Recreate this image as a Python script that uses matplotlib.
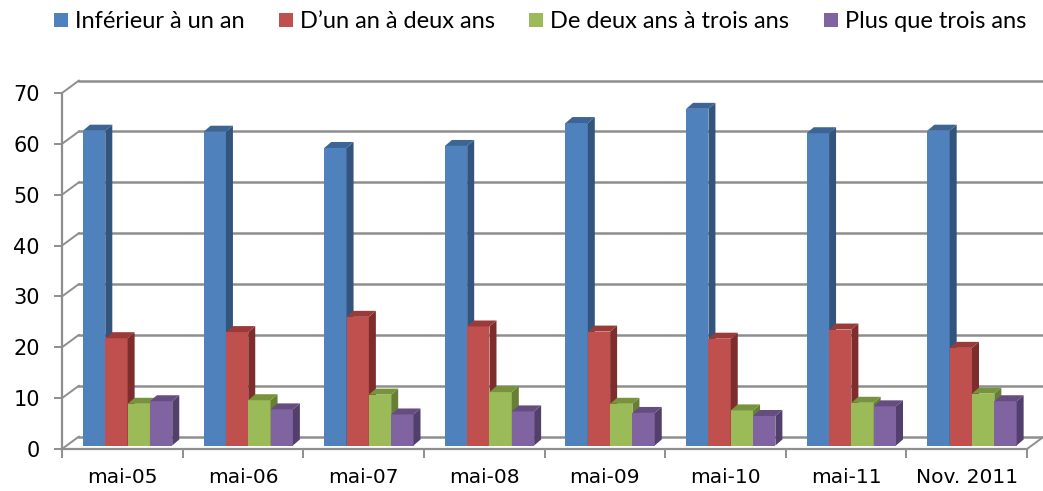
import numpy as np
import matplotlib
matplotlib.use("Agg")
import matplotlib.pyplot as plt
import matplotlib.transforms as mtransforms
from matplotlib.patches import Polygon, Patch

# data
categories = ["mai-05", "mai-06", "mai-07", "mai-08", "mai-09", "mai-10", "mai-11", "Nov. 2011"]
series = ["Inférieur à un an", "D’un an à deux ans", "De deux ans à trois ans", "Plus que trois ans"]
inf_un_an = [61.9, 61.7, 58.5, 58.9, 63.4, 66.2, 61.4, 61.9]
un_a_deux = [21.1, 22.3, 25.3, 23.4, 22.4, 21.0, 22.8, 19.2]
deux_a_trois = [8.2, 8.9, 10.0, 10.5, 8.2, 6.9, 8.4, 10.2]
plus_trois = [8.7, 7.1, 6.1, 6.7, 6.4, 5.8, 7.7, 8.7]
yticks = [0, 10, 20, 30, 40, 50, 60, 70]

values = [inf_un_an, un_a_deux, deux_a_trois, plus_trois]
front_cols = ["#4F81BD", "#C0504D", "#9BBB59", "#8064A2"]
top_cols = ["#3C6494", "#9A3B38", "#77933C", "#654D80"]
side_cols = ["#33547D", "#7D2E2C", "#667F34", "#533F6B"]
grey = "#8E8E8E"

fig = plt.figure(figsize=(10.43, 4.91), dpi=100)
ax = fig.add_axes([62 / 1043, 42 / 491, 965 / 1043, 356 / 491])
ax.set_xlim(-0.5, len(categories) - 0.5)
ax.set_ylim(0, 70)

# back wall gridlines (shifted up/right for the 3D look)
back = mtransforms.ScaledTranslation(17 / 100, 12.5 / 100, fig.dpi_scale_trans)
for v in yticks:
    ax.plot([0, 1], [v, v], color=grey, lw=1.8, transform=ax.get_yaxis_transform() + back,
            clip_on=False, zorder=1)
    ax.annotate("", xy=(0, v), xycoords=ax.get_yaxis_transform(), xytext=(12.24, 9),
                textcoords="offset points",
                arrowprops=dict(arrowstyle="-", color=grey, lw=1.4, shrinkA=0, shrinkB=0))
# floor right edge
ax.annotate("", xy=(1, 0), xycoords="axes fraction", xytext=(12.24, 9), textcoords="offset points",
            arrowprops=dict(arrowstyle="-", color=grey, lw=1.4, shrinkA=0, shrinkB=0),
            annotation_clip=False)

# depth of the bars in data units
p0 = ax.transData.transform((0, 0))
base = ax.transData.inverted().transform(p0 + np.array([0, 3.5]))[1]
ddx, ddy = ax.transData.inverted().transform(p0 + np.array([7, 6])) - ax.transData.inverted().transform(p0)

x = np.arange(len(categories))
w = 0.185
for k, vals in enumerate(values):
    xs = x - 0.2335 + w * k
    ax.bar(xs, vals, width=w, bottom=base, color=front_cols[k], zorder=3 + k * 0.1, linewidth=0)
    for xc, v in zip(xs, vals):
        x1 = xc + w / 2
        x0 = xc - w / 2
        top = base + v
        side = Polygon([(x1, base), (x1, top), (x1 + ddx, top + ddy), (x1 + ddx, base + ddy)],
                       closed=True, facecolor=side_cols[k], edgecolor="none", zorder=3 + k * 0.1)
        cap = Polygon([(x0, top), (x1, top), (x1 + ddx, top + ddy), (x0 + ddx, top + ddy)],
                      closed=True, facecolor=top_cols[k], edgecolor="none", zorder=3 + k * 0.1)
        ax.add_patch(side)
        ax.add_patch(cap)

# axes styling
for s in ["top", "right"]:
    ax.spines[s].set_visible(False)
for s in ["left", "bottom"]:
    ax.spines[s].set_color(grey)
    ax.spines[s].set_linewidth(1.6)
    ax.spines[s].set_zorder(6)
ax.set_yticks(yticks)
ax.tick_params(axis="y", length=6, width=1.4, color=grey, pad=10, labelsize=15)
ax.set_xticks(x)
ax.set_xticklabels(categories)
ax.set_xticks(np.arange(-0.5, len(categories)), minor=True)
ax.tick_params(axis="x", which="major", length=0, pad=14, labelsize=14.5)
ax.tick_params(axis="x", which="minor", length=6.5, width=1.4, color=grey)
ax.set_facecolor("none")

handles = [Patch(facecolor=c, edgecolor="none") for c in front_cols]
fig.legend(handles, series, loc="center", bbox_to_anchor=(540 / 1043, 1 - 22 / 491), ncol=4,
           frameon=False, prop={"family": ["Lato", "DejaVu Sans"], "size": 17},
           handlelength=0.6, handleheight=0.55, handletextpad=0.3, columnspacing=1.45,
           borderpad=0, borderaxespad=0)

plt.savefig("out.png", dpi=100)
